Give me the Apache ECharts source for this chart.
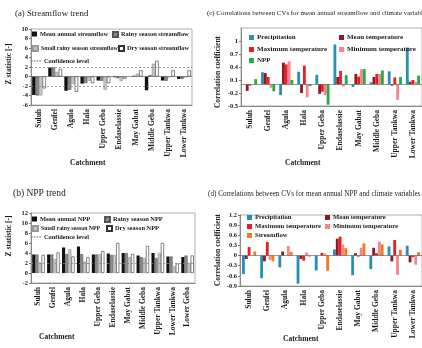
<!DOCTYPE html>
<html>
<head>
<meta charset="utf-8">
<script src="https://cdn.jsdelivr.net/npm/echarts@6/dist/echarts.min.js"></script>
<style>
  html, body { margin: 0; padding: 0; background: #fff; }
  #chart { width: 422px; height: 348px; }
</style>
</head>
<body>
<div id="chart"></div>
<script>
  // catchments
  var catAC = ['Suluh', 'Genfel', 'Agula', 'Hala', 'Upper Geba', 'Endaselassie', 'May Gabat', 'Middle Geba', 'Upper Tankwa', 'Lower Tankwa'];
  var catB = ['Suluh', 'Genfel', 'Agula', 'Hala', 'Upper Geba', 'Endaselassie', 'May Gabat', 'Middle Geba', 'Upper Tankwa', 'Lower Tankwa', 'Lower Geba'];
  var confLevel = 1.96;

  // (a) streamflow trend, Z statistic
  var sfMean = [-3.9, 1.9, -3.0, -1.5, -0.85, -0.15, 0.0, -2.9, -0.85, -0.5];
  var sfRainy = [-4.0, 1.9, -2.8, -1.4, -0.9, -0.35, 0.15, 0.3, -0.9, -0.5];
  var sfSmall = [-4.0, 1.0, -1.6, -0.9, -2.8, -1.0, 0.6, 2.7, -0.15, -0.2];
  var sfDry = [-2.5, 1.6, -3.2, -1.4, -1.4, -0.5, 1.3, 3.3, 1.3, 1.3];

  // (b) NPP trend, Z statistic
  var nppMean = [3.7, 3.7, 5.1, 5.3, 3.7, 3.9, 4.0, 3.5, 4.0, 3.3, 3.2];
  var nppRainy = [3.7, 3.7, 3.8, 3.8, 3.7, 3.6, 4.0, 3.2, 3.0, 3.3, 3.5];
  var nppSmall = [2.1, 2.8, 4.8, 2.3, 3.8, 3.6, 3.2, 3.0, 4.0, 1.4, 2.0];
  var nppDry = [3.6, 4.1, 3.3, 3.2, 4.4, 6.0, 3.8, 5.4, 6.0, 1.9, 3.5];

  // (c) correlations, streamflow CV vs climate
  var cPrecip = [0.0, 0.28, -0.25, 0.29, 0.22, 0.92, -0.06, 0.05, 0.30, 0.85];
  var cMeanT = [-0.15, 0.26, 0.50, -0.20, -0.22, 0.17, 0.24, 0.17, -0.03, 0.06];
  var cMaxT = [-0.03, 0.17, 0.46, 0.43, -0.17, 0.31, 0.18, 0.24, 0.16, 0.10];
  var cMinT = [0.0, -0.08, 0.53, -0.30, -0.25, -0.05, 0.35, 0.24, -0.36, 0.06];
  var cNpp = [0.12, -0.16, 0.10, -0.04, -0.47, 0.21, 0.35, 0.32, 0.17, 0.20];

  // (d) correlations, NPP CV vs climate
  var dPrecip = [-0.55, -0.67, -0.35, -0.83, -0.44, 0.18, -0.58, -0.40, 0.27, 0.29];
  var dMeanT = [-0.10, -0.17, 0.12, -0.10, 0.0, 0.50, 0.07, 0.23, -0.17, -0.20];
  var dMaxT = [0.25, 0.40, 0.0, -0.15, 0.08, 0.56, -0.03, 0.07, 0.46, -0.05];
  var dMinT = [0.0, -0.13, 0.28, 0.09, 0.06, 0.33, 0.23, 0.41, -0.57, -0.27];
  var dStream = [0.12, -0.17, 0.11, -0.03, -0.45, 0.22, 0.36, 0.33, 0.17, 0.10];

  var SERIF = '"Liberation Serif", "Times New Roman", serif';
  var INK = '#1a1a1a';
  var dashIcon = 'path://M0,4h3v1.4h-3z M5,4h3v1.4h-3z M10,4h3v1.4h-3z M15,4h3v1.4h-3z';

  function xAxisFor(idx, cats) {
    return {
      type: 'category', gridIndex: idx, data: cats,
      axisLine: { onZero: false, lineStyle: { color: '#777', width: 0.8 } },
      axisTick: { length: 2, lineStyle: { color: '#777' } },
      axisLabel: { rotate: 90, interval: 0, margin: 4, fontFamily: SERIF, fontWeight: 'bold', fontSize: 7.5, color: INK }
    };
  }
  function yAxisFor(idx, min, max, step, hideMax) {
    return {
      type: 'value', gridIndex: idx, min: min, max: max, interval: step,
      splitLine: { show: false },
      axisLine: { show: true, lineStyle: { color: '#777', width: 0.8 } },
      axisTick: { show: true, length: 2, lineStyle: { color: '#777' } },
      axisLabel: { margin: 3, fontFamily: SERIF, fontWeight: 'bold', fontSize: 6.5, color: INK, showMaxLabel: !hideMax }
    };
  }
  function bar(name, data, idx, color, gap, border) {
    return {
      name: name, type: 'bar', xAxisIndex: idx, yAxisIndex: idx, data: data,
      barGap: '0%', barCategoryGap: gap,
      itemStyle: { color: color, borderColor: border || color, borderWidth: border ? 0.6 : 0 }
    };
  }
  function zeroLine() {
    return { silent: true, symbol: 'none', label: { show: false },
      lineStyle: { color: '#555', width: 0.6, type: 'solid' }, data: [{ yAxis: 0 }] };
  }
  function confSeries(idx, both) {
    var lines = [{ yAxis: confLevel }];
    if (both) lines.push({ yAxis: -confLevel });
    return {
      name: 'Confidence level', type: 'line', xAxisIndex: idx, yAxisIndex: idx, data: [],
      itemStyle: { color: '#666' }, lineStyle: { color: '#666' },
      markLine: { silent: true, symbol: 'none', label: { show: false },
        lineStyle: { color: '#888', width: 0.8, type: [2, 2] }, data: lines }
    };
  }
  function leg(name, left, top, size, icon) {
    return {
      data: [icon ? { name: name, icon: icon } : name],
      left: left, top: top, padding: 0, itemWidth: icon ? 10 : 5, itemHeight: 5, itemGap: 0,
      icon: 'rect', selectedMode: false,
      textStyle: { fontFamily: SERIF, fontWeight: 'bold', fontSize: size, color: INK, padding: [0, 0, 0, -2] }
    };
  }
  function ttl(text, left, top, size, bold) {
    return { text: text, left: left, top: top, padding: 0,
      textStyle: { fontFamily: SERIF, fontWeight: bold ? 'bold' : 'normal', fontSize: size, color: INK } };
  }
  function yName(text, x, y) {
    return { type: 'text', x: x, y: y, rotation: Math.PI / 2,
      style: { text: text, align: 'center', verticalAlign: 'middle', font: 'bold 7.5px ' + SERIF, fill: INK } };
  }

  var black = '#111111', grey = '#8c8c8c', light = '#c4c4c4', white = '#ffffff';
  var cBlue = '#2b8db3', cDark = '#8e1b22', cRed = '#ec1c24', cPink = '#f3868c', cGreen = '#1fae4b', cOrange = '#f07b23';

  var option = {
    animation: false,
    title: [
      ttl('(a) Streamflow trend', 15, 9, 8.8),
      ttl('(c) Correlations between CVs for mean annual streamflow and climate variables', 207, 10, 6.9),
      ttl('(b) NPP trend', 13, 188, 9.5),
      ttl('(d) Correlations between CVs for mean annual NPP and climate variables', 208, 191, 7.2),
      ttl('Catchment', 70, 159, 7.5, true),
      ttl('Catchment', 39, 333, 7.5, true),
      ttl('Catchment', 285, 159, 7.5, true),
      ttl('Catchment', 283, 335, 7.5, true)
    ],
    graphic: [
      yName('Z statistic [-]', 9, 64),
      yName('Z statistic [-]', 9, 236),
      yName('Correlation coefficient', 218, 72),
      yName('Correlation coefficient', 218, 250)
    ],
    legend: [
      leg('Mean annual streamflow', 32, 31, 6.4),
      leg('Rainy season streamflow', 112, 31, 6.4),
      leg('Small rainy season streamflow', 32, 45, 5.9),
      leg('Dry season streamflow', 118, 45, 6.4),
      leg('Confidence level', 31, 58, 6.4, dashIcon),
      leg('Mean annual NPP', 32, 216, 6.4),
      leg('Rainy season NPP', 104, 216, 6.4),
      leg('Small rainy season NPP', 32, 225, 5.8),
      leg('Dry season NPP', 106, 225, 6.4),
      leg('Confidence level', 31, 234, 6.4, dashIcon),
      leg('Precipitation', 249, 34, 7),
      leg('Mean temperature', 339, 34, 7),
      leg('Maximum temperature', 249, 46, 7),
      leg('Minimum temperature', 339, 46, 7),
      leg('NPP', 249, 57, 7),
      leg('Precipitation ', 247, 214, 6.6),
      leg('Mean temperature ', 325, 214, 6.6),
      leg('Maximum temperature ', 247, 223, 6.6),
      leg('Minimum temperature ', 325, 223, 6.6),
      leg('Streamflow', 247, 232, 6.6)
    ],
    grid: [
      { left: 31, top: 29, width: 161, height: 76, show: true, borderColor: '#999', borderWidth: 0.8 },
      { left: 241, top: 28, width: 188, height: 78, show: true, borderColor: '#999', borderWidth: 0.8 },
      { left: 31, top: 213, width: 164, height: 70, show: true, borderColor: '#999', borderWidth: 0.8 },
      { left: 240, top: 215, width: 189, height: 71, show: true, borderColor: '#999', borderWidth: 0.8 }
    ],
    xAxis: [xAxisFor(0, catAC), xAxisFor(1, catAC), xAxisFor(2, catB), xAxisFor(3, catAC)],
    yAxis: [
      yAxisFor(0, -6, 10, 2),
      yAxisFor(1, -0.5, 1.3, 0.3, true),
      yAxisFor(2, -2, 12, 2),
      yAxisFor(3, -0.9, 1.2, 0.3)
    ],
    series: [
      Object.assign(bar('Mean annual streamflow', sfMean, 0, black, '14%'), { markLine: zeroLine() }),
      bar('Rainy season streamflow', sfRainy, 0, grey, '14%', '#555'),
      bar('Small rainy season streamflow', sfSmall, 0, light, '14%', '#999'),
      bar('Dry season streamflow', sfDry, 0, white, '14%', '#333'),
      confSeries(0, true),

      Object.assign(bar('Precipitation', cPrecip, 1, cBlue, '22%'), { markLine: zeroLine() }),
      bar('Mean temperature', cMeanT, 1, cDark, '22%'),
      bar('Maximum temperature', cMaxT, 1, cRed, '22%'),
      bar('Minimum temperature', cMinT, 1, cPink, '22%'),
      bar('NPP', cNpp, 1, cGreen, '22%'),

      bar('Mean annual NPP', nppMean, 2, black, '16%'),
      bar('Rainy season NPP', nppRainy, 2, grey, '16%', '#555'),
      bar('Small rainy season NPP', nppSmall, 2, light, '16%', '#999'),
      bar('Dry season NPP', nppDry, 2, white, '16%', '#333'),
      confSeries(2, false),

      Object.assign(bar('Precipitation ', dPrecip, 3, cBlue, '22%'), { markLine: zeroLine() }),
      bar('Mean temperature ', dMeanT, 3, cDark, '22%'),
      bar('Maximum temperature ', dMaxT, 3, cRed, '22%'),
      bar('Minimum temperature ', dMinT, 3, cPink, '22%'),
      bar('Streamflow', dStream, 3, cOrange, '22%')
    ]
  };

  echarts.init(document.getElementById('chart'), null, { renderer: 'canvas' }).setOption(option);
</script>
</body>
</html>
